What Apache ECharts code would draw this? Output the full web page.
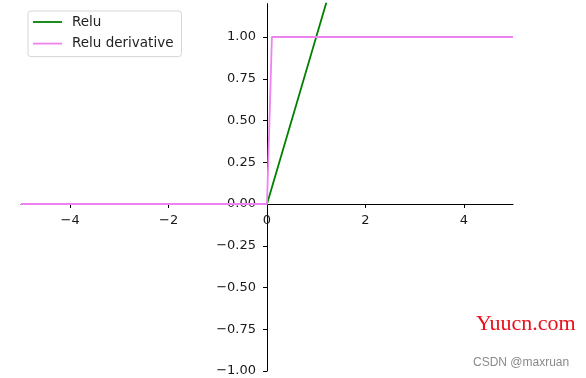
<!DOCTYPE html>
<html>
<head>
<meta charset="utf-8">
<script src="https://cdn.jsdelivr.net/npm/echarts@6/dist/echarts.min.js"></script>
<style>html,body{margin:0;padding:0;background:#fff;}#c{width:586px;height:378px;}</style>
</head>
<body>
<div id="c"></div>
<script>
var reluX = [-5, 0, 5];
var reluY = [0, 0, 5];
var derivX = [-5, 0, 0.1, 5];
var derivY = [0, 0, 1, 1];
var xTicks = [-4, -2, 0, 2, 4];
var yTicks = [-1, -0.75, -0.5, -0.25, 0, 0.25, 0.5, 0.75, 1];

function pairs(xs, ys) { return xs.map(function (x, i) { return [x, ys[i]]; }); }
function minus(s) { return String(s).replace('-', '\u2212'); }

var font = 'DejaVu Sans';
var gridL = 21, gridR = 73, gridT = 3.6, gridB = 7;
var chart = echarts.init(document.getElementById('c'), null, {renderer: 'canvas'});
chart.setOption({
  animation: false,
  backgroundColor: '#fff',
  grid: {left: gridL, right: gridR, top: gridT, bottom: gridB, containLabel: false, outerBoundsMode: 'none'},
  legend: {
    left: 28, top: 11,
    orient: 'vertical',
    icon: 'rect',
    itemWidth: 29, itemHeight: 1.8,
    itemGap: 7.6,
    padding: [4, 8, 6, 5],
    borderColor: '#d6d6d6', borderWidth: 1, borderRadius: 3,
    backgroundColor: 'rgba(255,255,255,0.8)',
    textStyle: {fontFamily: font, fontSize: 13.5, lineHeight: 14, color: '#222', padding: [0, 0, 0, 5]},
    data: ['Relu', 'Relu derivative']
  },
  xAxis: {
    type: 'value', min: -5, max: 5,
    splitLine: {show: false},
    axisLine: {show: true, onZero: false, lineStyle: {color: '#000', width: 1}},
    axisTick: {show: true, length: 4, customValues: xTicks, lineStyle: {color: '#000'}},
    axisLabel: {customValues: xTicks, margin: 10, fontFamily: font, fontSize: 13, color: '#1a1a1a',
      formatter: function (v) { return minus(v); }}
  },
  yAxis: {
    type: 'value', min: -1, max: 1.2,
    splitLine: {show: false},
    axisLine: {show: true, onZero: false, lineStyle: {color: '#000', width: 1}},
    axisTick: {show: true, length: 4, customValues: yTicks, lineStyle: {color: '#000'}},
    axisLabel: {customValues: yTicks, margin: 11, fontFamily: font, fontSize: 13, color: '#1a1a1a',
      formatter: function (v) { return minus(v.toFixed(2)); }}
  },
  series: [
    {name: 'Relu', type: 'line', data: pairs(reluX, reluY), showSymbol: false, clip: true,
      itemStyle: {color: 'green'}, lineStyle: {color: 'green', width: 1.8}, z: 3},
    {name: 'Relu derivative', type: 'line', data: pairs(derivX, derivY), showSymbol: false, clip: true,
      itemStyle: {color: 'violet'}, lineStyle: {color: 'violet', width: 1.8}, z: 4}
  ],
  graphic: [
    {type: 'text', x: 476, y: 324, style: {text: 'Yuucn.com', fill: '#e8101a', font: '22px "Liberation Serif"', textVerticalAlign: 'middle'}},
    {type: 'text', x: 473, y: 363, style: {text: 'CSDN @maxruan', fill: '#8a8a8a', font: '12px "Liberation Sans"', textVerticalAlign: 'middle'}}
  ]
});
// move spines to the data origin (matplotlib 'zero' spines)
var origin = chart.convertToPixel({gridIndex: 0}, [0, 0]);
var H = chart.getHeight();
chart.setOption({
  xAxis: {offset: -(H - gridB - origin[1])},
  yAxis: {offset: -(origin[0] - gridL)}
});
</script>
</body>
</html>
